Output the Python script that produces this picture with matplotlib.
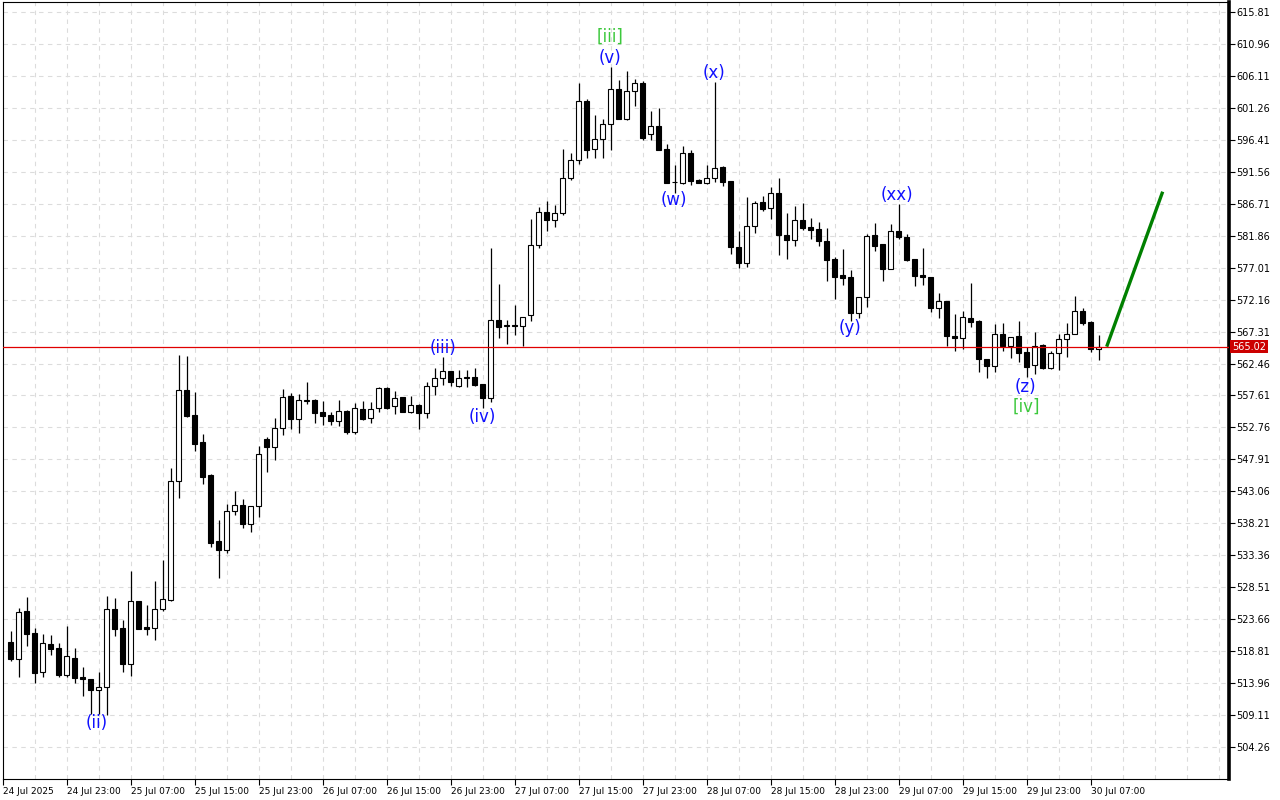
import matplotlib
matplotlib.use("Agg")
import matplotlib.pyplot as plt
import matplotlib.transforms as mtransforms
import pandas as pd

# H1 candles, first bar 24 Jul 2025 16:00
opens = [520.19, 517.66, 524.90, 521.56, 515.60, 519.89, 519.28, 515.19, 517.77, 514.88,
         514.58, 512.95, 513.31, 525.20, 522.32, 516.90, 526.37, 522.47, 522.27, 525.16,
         526.52, 544.58, 558.39, 554.60, 550.50, 545.54, 535.52, 534.20, 540.03, 540.99,
         538.06, 540.79, 551.00, 549.84, 552.63, 557.53, 554.09, 556.77, 556.88, 555.10,
         554.60, 553.78, 555.25, 552.02, 555.51, 554.15, 555.66, 558.70, 556.01, 557.33,
         555.15, 556.12, 554.91, 559.00, 560.21, 561.28, 559.09, 560.30, 560.41, 559.35,
         557.18, 569.06, 568.20, 568.26, 568.11, 569.78, 580.40, 585.41, 584.19, 585.35,
         590.57, 593.30, 602.26, 594.97, 596.49, 598.76, 604.08, 599.61, 603.77, 604.99,
         597.25, 598.46, 594.97, 590.01, 589.90, 594.36, 590.31, 589.90, 590.57, 592.24,
         590.11, 580.10, 577.67, 583.33, 586.92, 586.02, 588.29, 581.96, 581.16, 584.19,
         583.13, 582.83, 581.01, 578.28, 575.85, 575.54, 570.17, 572.51, 581.96, 580.55,
         576.85, 582.53, 581.66, 578.28, 575.85, 575.64, 570.84, 571.90, 566.70, 566.38,
         569.32, 568.91, 563.10, 562.13, 566.89, 565.05, 566.59, 564.16, 562.28, 565.22,
         561.78, 564.01, 566.13, 566.89, 570.38, 568.81, 564.66]
highs = [521.86, 525.31, 527.03, 522.27, 521.41, 521.21, 520.04, 522.62, 519.28, 516.40,
         514.58, 515.60, 527.18, 526.83, 523.53, 530.97, 526.37, 525.81, 529.45, 532.64,
         546.56, 563.75, 563.60, 558.09, 551.72, 545.65, 538.71, 541.14, 543.06, 541.90,
         540.84, 549.90, 551.26, 554.19, 558.59, 558.03, 557.79, 559.65, 557.07, 556.77,
         555.06, 556.88, 555.40, 556.47, 556.77, 556.66, 558.94, 558.85, 558.33, 557.33,
         557.53, 556.27, 559.70, 561.78, 563.40, 561.28, 561.47, 561.47, 561.78, 559.35,
         580.04, 574.48, 569.06, 571.34, 569.47, 584.35, 586.21, 587.08, 586.52, 595.02,
         594.41, 605.08, 602.56, 600.18, 599.52, 607.51, 605.49, 606.85, 605.60, 605.29,
         600.78, 601.19, 595.78, 592.54, 595.47, 594.86, 590.40, 592.54, 605.23, 592.44,
         590.21, 582.57, 587.78, 587.12, 587.88, 589.29, 590.62, 585.30, 586.41, 586.82,
         584.54, 583.89, 582.98, 578.67, 579.84, 576.65, 572.51, 582.07, 583.74, 580.55,
         583.59, 586.62, 582.07, 578.28, 579.95, 575.64, 573.11, 571.90, 570.02, 570.38,
         574.63, 569.06, 563.10, 568.50, 568.56, 566.53, 568.87, 565.01, 567.20, 565.37,
         564.31, 566.98, 568.56, 572.75, 570.88, 568.96, 566.79]
lows = [517.31, 514.93, 519.63, 514.02, 514.84, 518.27, 514.84, 514.93, 514.02, 512.04,
        509.31, 509.22, 509.11, 521.03, 515.60, 515.08, 522.21, 521.30, 520.44, 524.90,
        526.42, 542.09, 554.39, 549.23, 544.22, 534.66, 529.95, 533.75, 539.51, 537.54,
        536.89, 539.21, 546.04, 547.86, 551.66, 552.57, 551.96, 556.27, 553.48, 553.13,
        553.13, 553.02, 551.72, 551.81, 553.89, 553.48, 555.15, 555.60, 554.84, 555.06,
        555.00, 552.57, 554.15, 557.68, 559.20, 559.05, 558.94, 558.94, 559.09, 555.66,
        556.57, 566.29, 565.47, 566.83, 565.12, 568.96, 579.95, 582.62, 583.22, 584.95,
        590.27, 592.79, 593.70, 593.70, 593.70, 594.82, 599.61, 599.46, 601.59, 596.34,
        596.38, 594.91, 589.81, 588.38, 589.66, 589.60, 589.80, 589.66, 589.96, 589.45,
        579.03, 576.91, 577.15, 582.31, 585.65, 584.35, 578.97, 578.37, 580.34, 582.77,
        581.36, 580.34, 575.03, 572.21, 574.42, 568.91, 569.32, 571.00, 579.58, 575.03,
        576.76, 581.40, 578.02, 574.27, 574.37, 570.32, 569.32, 565.05, 564.40, 564.71,
        567.96, 561.22, 560.21, 561.22, 564.40, 563.25, 562.73, 560.46, 560.82, 561.63,
        561.58, 561.47, 563.40, 566.89, 568.26, 564.25, 562.92]
closes = [517.61, 524.70, 521.45, 515.53, 520.00, 519.18, 515.19, 518.02, 514.78, 514.53,
          512.95, 513.36, 525.16, 522.21, 516.90, 526.37, 522.21, 522.21, 525.16, 526.68,
          544.58, 558.39, 554.49, 550.29, 545.28, 535.26, 534.16, 540.03, 540.94, 538.15,
          540.84, 548.68, 549.84, 552.63, 557.33, 554.09, 556.88, 556.88, 555.00, 554.54,
          553.78, 555.25, 552.02, 555.66, 554.04, 555.51, 558.70, 555.75, 557.27, 555.15,
          556.12, 554.91, 559.00, 560.21, 561.28, 559.61, 560.21, 560.37, 559.20, 557.18,
          569.02, 568.05, 568.26, 568.20, 569.47, 580.40, 585.41, 584.19, 585.26, 590.57,
          593.30, 602.26, 594.91, 596.49, 598.76, 604.08, 599.61, 603.77, 604.99, 596.73,
          598.46, 594.91, 589.90, 590.01, 594.36, 590.21, 589.86, 590.57, 592.09, 590.05,
          580.19, 577.67, 583.33, 586.77, 585.96, 588.29, 581.92, 581.25, 584.19, 583.07,
          582.77, 581.05, 578.21, 575.63, 575.48, 570.17, 572.51, 581.77, 580.34, 576.85,
          582.53, 581.62, 578.17, 575.79, 575.54, 570.84, 571.90, 566.70, 566.38, 569.47,
          568.81, 563.10, 562.13, 566.89, 565.05, 566.53, 564.10, 561.98, 565.05, 561.78,
          564.01, 566.13, 566.89, 570.47, 568.65, 564.62, 565.02]

first_bar = "2025-07-24 16:00"
first_label = "24 Jul 2025"
time_labels = ["24 Jul 23:00", "25 Jul 07:00", "25 Jul 15:00", "25 Jul 23:00",
               "26 Jul 07:00", "26 Jul 15:00", "26 Jul 23:00", "27 Jul 07:00",
               "27 Jul 15:00", "27 Jul 23:00", "28 Jul 07:00", "28 Jul 15:00",
               "28 Jul 23:00", "29 Jul 07:00", "29 Jul 15:00", "29 Jul 23:00",
               "30 Jul 07:00"]
price_ticks = [615.81, 610.96, 606.11, 601.26, 596.41, 591.56, 586.71, 581.86,
               577.01, 572.16, 567.31, 562.46, 557.61, 552.76, 547.91, 543.06,
               538.21, 533.36, 528.51, 523.66, 518.81, 513.96, 509.11, 504.26]
last_price = 565.02

# Elliott wave marks (bar index, price of label centre)
wave_labels = ["(ii)", "(iii)", "(iv)", "[iii]", "(v)", "(w)", "(x)",
               "(xx)", "(y)", "(z)", "[iv]"]
wave_bars = [10.8, 54.0, 58.9, 74.9, 74.9, 82.9, 87.9, 110.8, 104.9, 126.9, 126.9]
wave_prices = [507.85, 564.81, 554.34, 612.01, 608.83, 587.28, 606.55,
               588.03, 567.85, 558.90, 555.86]
wave_degree = ["minor", "minor", "minor", "major", "minor", "minor", "minor",
               "minor", "minor", "minor", "major"]

forecast_bars = [137, 144]
forecast_prices = [565.02, 588.54]

BLUE = "#1010ff"
GREEN = "#3cc83c"


def main():
    n = len(closes)
    idx = list(range(n))
    bar_times = pd.date_range(first_bar, periods=n, freq="h").strftime("%d Jul %H:%M").tolist()
    tick_pos = [bar_times.index(t) for t in time_labels]

    fig = plt.figure(figsize=(12.8, 8), dpi=100)
    ax = fig.add_axes([3 / 1280, 21 / 800, 1226 / 1280, 777 / 800])
    x0, x1 = -0.9625, 152.29
    ax.set_xlim(x0, x1)
    ax.set_ylim(499.40, 617.33)

    # grid
    for gx in range(3, 153, 4):
        ax.axvline(gx, color="#dcdcdc", lw=0.8, ls=(0, (4, 4)), zorder=0)
    for gy in price_ticks:
        ax.axhline(gy, color="#dcdcdc", lw=0.8, ls=(0, (4, 4)), zorder=0)

    # candles
    ax.vlines(idx, lows, highs, color="black", lw=0.9, zorder=2)
    bottoms = [min(o, c) for o, c in zip(opens, closes)]
    heights = [max(abs(c - o), 0.05) for o, c in zip(opens, closes)]
    fills = ["white" if c >= o else "black" for o, c in zip(opens, closes)]
    ax.bar(idx, heights, bottom=bottoms, width=0.55, color=fills,
           edgecolor="black", linewidth=0.8, zorder=3)

    # current price
    ax.axhline(last_price, color="#e00000", lw=0.9, zorder=4)
    trans = mtransforms.blended_transform_factory(ax.transAxes, ax.transData)
    ax.text(1.0025, last_price, f"{last_price:.2f}", transform=trans, color="white",
            fontsize=7, va="center", ha="left", zorder=6, clip_on=False,
            bbox=dict(boxstyle="square,pad=0.18", fc="#cc0000", ec="none"))

    # forecast
    ax.plot(forecast_bars, forecast_prices, color="#008000", lw=2.4,
            solid_capstyle="butt", zorder=5)

    # wave labels
    for lab, bx, py, deg in zip(wave_labels, wave_bars, wave_prices, wave_degree):
        ax.text(bx, py, lab, color=GREEN if deg == "major" else BLUE,
                fontsize=12, ha="center", va="center", zorder=6)

    # axes
    ax.yaxis.tick_right()
    ax.set_yticks(price_ticks)
    ax.set_yticklabels([f"{p:.2f}" for p in price_ticks])
    ax.tick_params(axis="y", direction="out", length=4, width=0.8, pad=1.5,
                   labelsize=7, colors="black")

    ax.set_xticks([x0] + tick_pos)
    ax.set_xticklabels([first_label] + time_labels)
    ax.tick_params(axis="x", direction="out", length=4, width=0.8, pad=1.5,
                   labelsize=6.5)
    for lbl in ax.get_xticklabels():
        lbl.set_horizontalalignment("left")

    for side in ["left", "top", "bottom"]:
        ax.spines[side].set_linewidth(0.8)
    ax.spines["right"].set_linewidth(2.6)

    fig.savefig("out.png", dpi=100, facecolor="white")


if __name__ == "__main__":
    main()
